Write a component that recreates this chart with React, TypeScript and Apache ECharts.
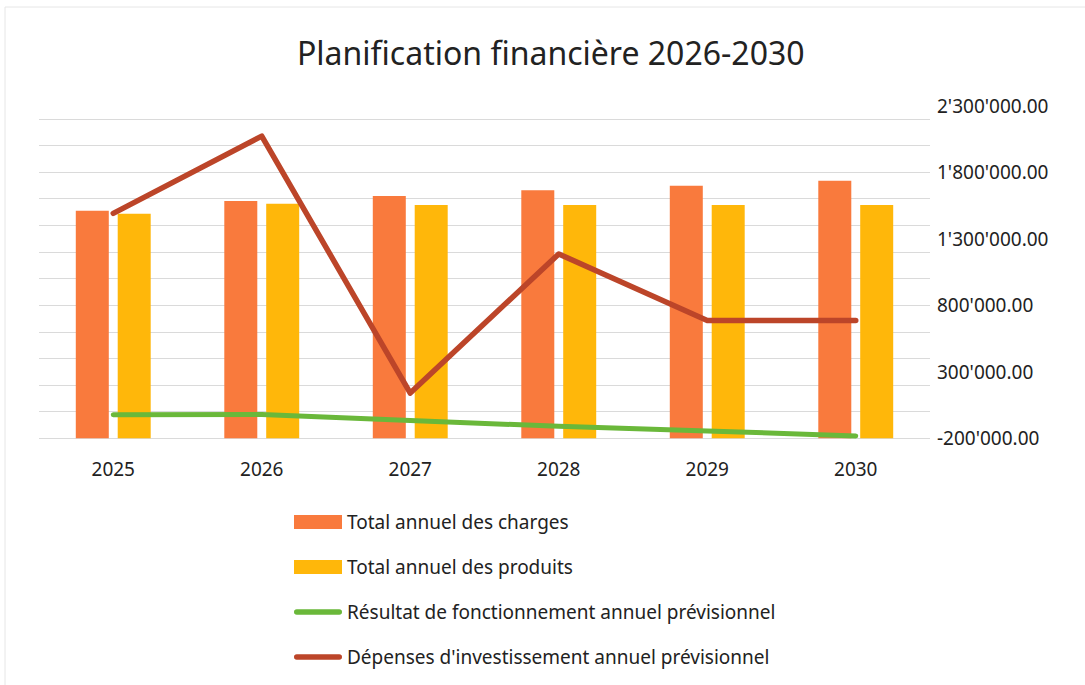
import React, { useEffect, useRef } from "react";
import * as echarts from "echarts";

const categories = ["2025", "2026", "2027", "2028", "2029", "2030"];
const charges = [1710000, 1783000, 1820000, 1863000, 1898000, 1935000];
const produits = [1687000, 1762000, 1753000, 1753000, 1753000, 1753000];
const resultat = [-23000, -21000, -67000, -110000, -145000, -182000];
const depenses = [1490000, 2070000, 140000, 1185000, 685000, 685000];
const seriesNames = [
  "Total annuel des charges",
  "Total annuel des produits",
  "Résultat de fonctionnement annuel prévisionnel",
  "Dépenses d'investissement annuel prévisionnel",
];

const fmt = (v: number) => {
  const neg = v < 0;
  const s = Math.abs(Math.round(v)).toString().replace(/\B(?=(\d{3})+(?!\d))/g, "'");
  return (neg ? "-" : "") + s + ".00";
};

const lineIcon =
  "path://M0,0 M48,14 M2.75,4.25 L45.25,4.25 A2.75,2.75 0 0 1 45.25,9.75 L2.75,9.75 A2.75,2.75 0 0 1 2.75,4.25 Z";

export default function App() {
  const ref = useRef<HTMLDivElement>(null);
  useEffect(() => {
    if (!ref.current) return;
    const chart = echarts.init(ref.current, null, { renderer: "svg" });
    const font = "'Noto Sans', sans-serif";
    chart.setOption({
      animation: false,
      backgroundColor: "#ffffff",
      textStyle: { fontFamily: font },
      title: {
        text: "Planification financière 2026-2030",
        left: 292,
        top: 31,
        textStyle: { fontFamily: font, fontSize: 32, fontWeight: "normal", color: "#222" },
      },
      graphic: [
        {
          type: "rect",
          shape: { x: 5, y: 7, width: 1100, height: 700 },
          style: { fill: "none", stroke: "#e6e6e6", lineWidth: 1 },
          silent: true,
        },
      ],
      legend: {
        orient: "vertical",
        left: 289,
        top: 506,
        itemWidth: 48,
        itemHeight: 14,
        itemGap: 23,
        itemStyle: { borderWidth: 0 },
        textStyle: { fontFamily: font, fontSize: 19, color: "#222", lineHeight: 22 },
        data: [
          { name: seriesNames[0], icon: "rect" },
          { name: seriesNames[1], icon: "rect" },
          { name: seriesNames[2], icon: lineIcon },
          { name: seriesNames[3], icon: lineIcon },
        ],
      },
      grid: { left: 39, right: 155, top: 105.5, bottom: 246.7, containLabel: false },
      xAxis: {
        type: "category",
        data: categories,
        axisLine: { show: false },
        axisTick: { show: false },
        axisLabel: { fontFamily: font, fontSize: 19, color: "#222", margin: 21 },
      },
      yAxis: [
        {
          type: "value",
          min: 0,
          max: 2500000,
          interval: 200000,
          axisLabel: { show: false },
          axisLine: { show: false },
          axisTick: { show: false },
          splitLine: { show: true, showMaxLine: false, lineStyle: { color: "#dadada", width: 1 } },
        },
        {
          type: "value",
          position: "right",
          min: -200000,
          max: 2300000,
          interval: 500000,
          axisLine: { show: false },
          axisTick: { show: false },
          splitLine: { show: false },
          axisLabel: {
            fontFamily: font,
            fontSize: 19,
            color: "#222",
            margin: 7,
            formatter: (v: number) => fmt(v),
          },
        },
      ],
      series: [
        {
          name: seriesNames[0],
          type: "bar",
          yAxisIndex: 0,
          data: charges,
          barWidth: 33,
          barGap: "27%",
          itemStyle: { color: "#F97A3D" },
        },
        {
          name: seriesNames[1],
          type: "bar",
          yAxisIndex: 0,
          data: produits,
          barWidth: 33,
          itemStyle: { color: "#FFB70A" },
        },
        {
          name: seriesNames[2],
          type: "line",
          yAxisIndex: 1,
          data: resultat,
          symbol: "none",
          lineStyle: { color: "#6AB83A", width: 5, cap: "round", join: "round" },
          itemStyle: { color: "#6AB83A" },
        },
        {
          name: seriesNames[3],
          type: "line",
          yAxisIndex: 1,
          data: depenses,
          symbol: "none",
          lineStyle: { color: "#BC4529", width: 5.5, cap: "round", join: "round" },
          itemStyle: { color: "#BC4529" },
        },
      ],
    });
    return () => chart.dispose();
  }, []);
  return (
    <div
      ref={ref}
      style={{ position: "fixed", left: 0, top: 0, width: 1085, height: 685 }}
    />
  );
}
